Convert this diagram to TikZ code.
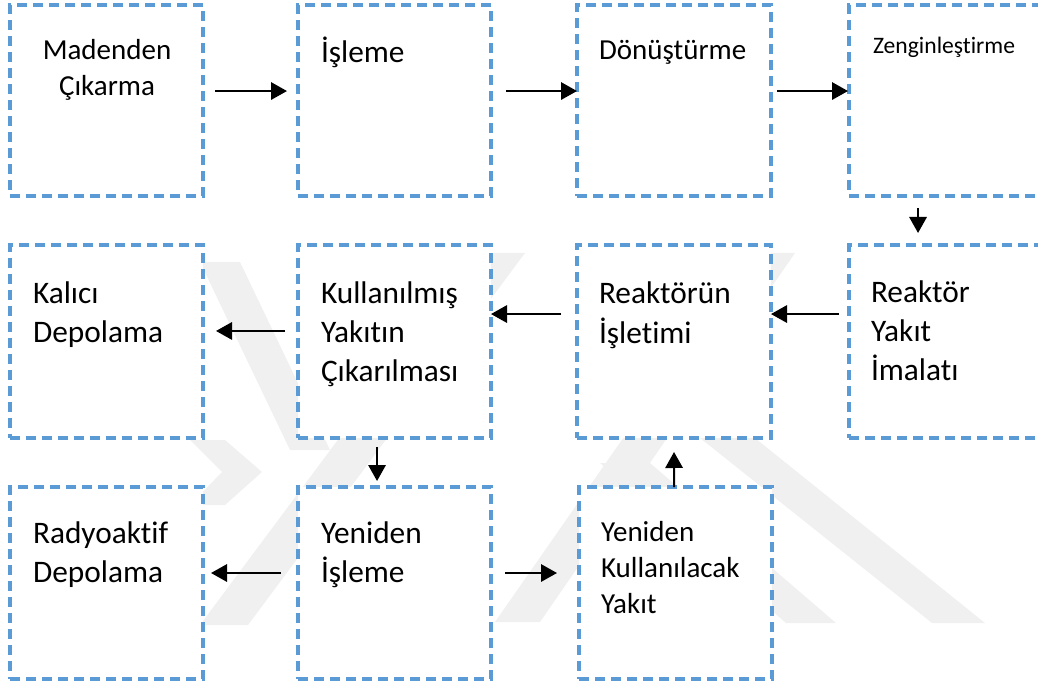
\documentclass[tikz,border=0pt]{standalone}
\usepackage{fontspec}
\setmainfont{Carlito}[RawFeature={-liga}]
\usetikzlibrary{arrows.meta}
\definecolor{boxblue}{HTML}{5B9BD5}
\definecolor{wmgray}{HTML}{F0F0F0}
\tikzset{
  x=0.75pt, y=-0.75pt,
  box/.style={draw=boxblue, fill=white, line width=2.3pt, dash pattern=on 7.5pt off 4.5pt,
    rectangle, outer sep=0pt, inner sep=0pt},
  lbl/.style={anchor=base west, align=left, inner sep=0pt, outer sep=0pt,
    font=\fontsize{23.5}{29}\selectfont},
  lblsm/.style={lbl, font=\fontsize{21.75}{27}\selectfont},
  arr/.style={line width=1.6pt, -{Triangle[length=12pt,width=13pt]}},
  wm/.style={fill=wmgray, draw=none}
}
\begin{document}
\begin{tikzpicture}
\useasboundingbox (0,0) rectangle (1038,684);
% watermark (faint background logo)
\fill[wm] (200,625) -- (248,625) -- (525,253) -- (477,253) -- cycle;
\fill[wm] (495,622) -- (540,622) -- (795,253) -- (752,253) -- cycle;
\fill[wm] (690,430) -- (745,430) -- (985,623) -- (932,623) -- cycle;
\fill[wm] (600,463) -- (650,463) -- (836,623) -- (786,623) -- cycle;
\fill[wm] (200,262) -- (240,262) -- (330,450) -- (290,450) -- cycle;
\fill[wm] (190,440) -- (225,440) -- (262,472) -- (225,505) -- (190,505) -- (222,472) -- cycle;
% boxes: row 1
\node[box, minimum width=144.75pt, minimum height=143.25pt] (m1) at (106.5,100.5) {};
\node[box, minimum width=144.75pt, minimum height=143.25pt] (m2) at (394.5,100.5) {};
\node[box, minimum width=145.5pt, minimum height=143.25pt] (m3) at (674,100.5) {};
\node[box, minimum width=144.75pt, minimum height=143.25pt] (m4) at (945.5,100.5) {};
% row 2
\node[box, minimum width=144.75pt, minimum height=144.75pt] (k1) at (106.5,341.5) {};
\node[box, minimum width=144.75pt, minimum height=144.75pt] (k2) at (394.5,341.5) {};
\node[box, minimum width=145.5pt, minimum height=144.75pt] (k3) at (674,341.5) {};
\node[box, minimum width=144.75pt, minimum height=144.75pt] (k4) at (945.5,341.5) {};
% row 3
\node[box, minimum width=144.75pt, minimum height=144pt] (y1) at (106.5,583) {};
\node[box, minimum width=144.75pt, minimum height=144pt] (y2) at (394.5,583) {};
\node[box, minimum width=144.75pt, minimum height=144pt] (y3) at (675.5,583) {};
% texts (anchored at the baseline of the last line)
\node[lblsm, anchor=base, align=center] (t1) at (107,96) {Madenden\\Çıkarma};
\node[lbl] (t2) at (321,63) {İşleme};
\node[lblsm] (t3) at (599,60) {Dönüştürme};
\node[lbl, font=\fontsize{17.7}{20}\selectfont] (t4) at (873,54) {Zenginleştirme};
\node[lbl] (t5) at (33,342) {Kalıcı\\Depolama};
\node[lbl] (t6) at (321,381) {Kullanılmış\\Yakıtın\\Çıkarılması};
\node[lbl, font=\fontsize{23.5}{30}\selectfont] (t7) at (599,343) {Reaktörün\\İşletimi};
\node[lbl] (t8) at (871,380) {Reaktör\\Yakıt\\İmalatı};
\node[lbl] (t9) at (33,582) {Radyoaktif\\Depolama};
\node[lbl] (t10) at (321,582) {Yeniden\\İşleme};
\node[lblsm] (t11) at (601,613) {Yeniden\\Kullanılacak\\Yakıt};
% arrows row 1
\draw[arr] ([xshift=9pt, yshift=7.1pt]m1.east) -- ([xshift=-8.25pt, yshift=7.1pt]m2.west);
\draw[arr] ([xshift=11.25pt, yshift=7.1pt]m2.east) -- ([yshift=7.1pt]m3.west);
\draw[arr] ([xshift=4.5pt, yshift=7.1pt]m3.east) -- ([xshift=-0.75pt, yshift=7.1pt]m4.west);
\draw[arr] ([xshift=-20.6pt, yshift=-9pt]m4.south) -- ([xshift=-20.6pt, yshift=9pt]k4.north);
% arrows row 2
\draw[arr] ([xshift=-7.5pt, yshift=20.6pt]k4.west) -- ([yshift=20.6pt]k3.east);
\draw[arr] ([xshift=-12pt, yshift=20.6pt]k3.west) -- ([yshift=20.6pt]k2.east);
\draw[arr] ([xshift=-9.75pt, yshift=7.9pt]k2.west) -- ([xshift=9.75pt, yshift=7.9pt]k1.east);
\draw[arr] ([xshift=-13.1pt, yshift=-6.75pt]k2.south) -- ([xshift=-13.1pt, yshift=4.5pt]y2.north);
\draw[arr] ([xshift=-1pt]y3.north) -- ([yshift=-10.5pt]k3.south);
% arrows row 3
\draw[arr] ([xshift=-12.75pt, yshift=7.5pt]y2.west) -- ([xshift=6pt, yshift=7.5pt]y1.east);
\draw[arr] ([xshift=10.5pt, yshift=7.5pt]y2.east) -- ([xshift=-16.5pt, yshift=7.5pt]y3.west);
\end{tikzpicture}
\end{document}
